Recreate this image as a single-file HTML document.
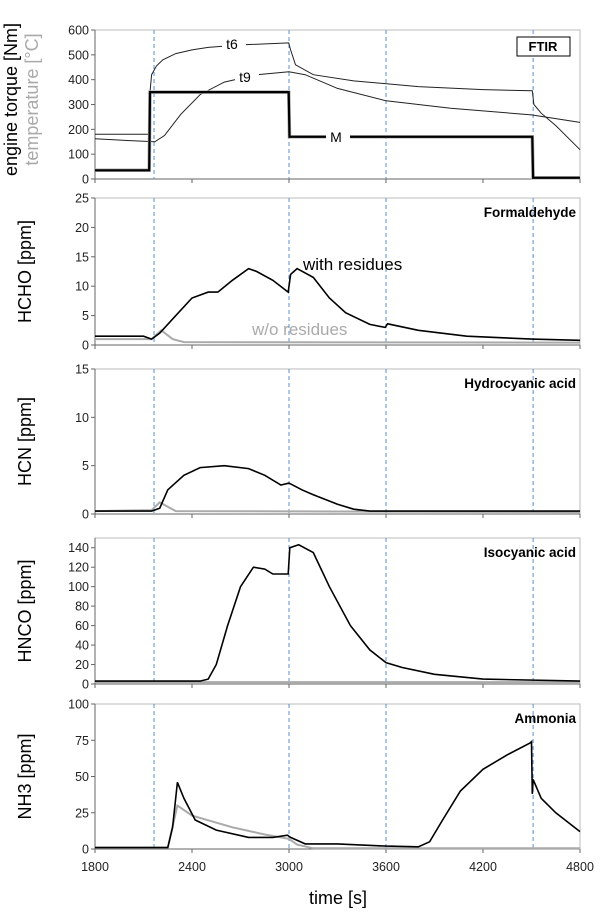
<!DOCTYPE html>
<html><head><meta charset="utf-8"><style>
body{margin:0;background:#fff}
svg text{font-family:"Liberation Sans",sans-serif}
</style></head><body>
<svg id="c" width="614" height="914" xmlns="http://www.w3.org/2000/svg"></svg>
<script>
const xTicks=[1800,2400,3000,3600,4200,4800];
const eventTimes=[2165,3000,3600,4510];
const p1Ticks=[0,100,200,300,400,500,600];
const p2Ticks=[0,5,10,15,20,25];
const p3Ticks=[0,5,10,15];
const p4Ticks=[0,20,40,60,80,100,120,140];
const p5Ticks=[0,25,50,75,100];
const torqueM=[[1800,35],[2135,35],[2140,350],[2998,350],[3003,170],[4505,170],[4510,5],[4800,5]];
const tempT6=[[1800,180],[2132,180],[2140,350],[2150,420],[2180,455],[2220,480],[2300,505],[2400,520],[2500,530],[2700,540],[2998,548],[3010,520],[3040,460],[3150,420],[3400,395],[3800,372],[4200,360],[4505,355],[4515,300],[4560,265],[4650,215],[4800,118]];
const tempT9=[[1800,162],[2000,155],[2170,150],[2230,175],[2330,260],[2450,340],[2600,390],[2800,420],[3000,432],[3100,420],[3300,365],[3600,315],[4000,285],[4500,258],[4800,228]];
const hchoWith=[[1800,1.5],[2100,1.5],[2150,1],[2200,2],[2300,5],[2400,8],[2500,9],[2560,9],[2650,11],[2750,13],[2800,12.5],[2900,11],[2995,9],[3010,12],[3050,13],[3150,11.5],[3250,8],[3350,5.5],[3500,3.5],[3595,3],[3610,3.6],[3800,2.5],[4100,1.5],[4500,1],[4800,0.8]];
const hchoWo=[[1800,1],[2150,1],[2210,2.5],[2280,1],[2350,0.5],[4800,0.4]];
const hcnWith=[[1800,0.3],[2150,0.3],[2200,0.6],[2250,2.5],[2350,4],[2450,4.8],[2600,5],[2750,4.7],[2850,4],[2950,3],[3000,3.2],[3080,2.5],[3150,2],[3300,1],[3400,0.5],[3500,0.3],[4800,0.3]];
const hcnWo=[[1800,0.3],[2150,0.4],[2200,1.2],[2300,0.3],[4800,0.2]];
const hncoWith=[[1800,3],[2450,3],[2500,5],[2550,20],[2620,60],[2700,100],[2780,120],[2850,118],[2900,113],[2995,113],[3005,140],[3060,143],[3150,135],[3250,100],[3380,60],[3500,35],[3600,22],[3700,17],[3900,10],[4200,5],[4800,3]];
const hncoWo=[[1800,2],[4800,2]];
const nh3With=[[1800,1],[2250,1],[2280,15],[2310,46],[2350,35],[2420,20],[2550,13],[2750,8],[2900,8],[2990,9.5],[3010,8],[3100,3.5],[3300,3.5],[3600,2],[3800,1.5],[3870,5],[3950,20],[4060,40],[4200,55],[4350,65],[4490,73],[4500,74],[4505,38],[4510,48],[4560,35],[4650,25],[4800,12]];
const nh3Wo=[[1800,1],[2250,1],[2310,30],[2400,23],[2650,15],[2850,10],[3000,7],[3050,3],[3150,0.5],[4800,0.5]];

const svg=document.getElementById('c');const NS='http://www.w3.org/2000/svg';
function mk(t,a,name,p){const e=document.createElementNS(NS,t);for(const k in a)e.setAttribute(k,a[k]);


(p||svg).appendChild(e);return e;}
const X0=95,X1=580;const sx=t=>X0+(t-1800)/3000*(X1-X0);
const panels=[
{top:30,bot:179,max:600,ticks:p1Ticks,title:['engine torque [Nm]']},
{top:198,bot:345,max:25,ticks:p2Ticks,title:['HCHO [ppm]'],label:'Formaldehyde',w:hchoWith,wo:hchoWo},
{top:369,bot:514,max:15,ticks:p3Ticks,title:['HCN [ppm]'],label:'Hydrocyanic acid',w:hcnWith,wo:hcnWo},
{top:538,bot:684,max:150,ticks:p4Ticks,title:['HNCO [ppm]'],label:'Isocyanic acid',w:hncoWith,wo:hncoWo},
{top:704,bot:849,max:100,ticks:p5Ticks,title:['NH3 [ppm]'],label:'Ammonia',w:nh3With,wo:nh3Wo}];
function path(data,sy){return data.map((d,i)=>(i?'L':'M')+sx(d[0]).toFixed(1)+','+sy(d[1]).toFixed(1)).join('');}
panels.forEach((P,i)=>{
 const g=mk('g',{},'panel-'+(i+1));
 const sy=v=>P.bot-v/P.max*(P.bot-P.top);
 mk('rect',{x:X0,y:P.top,width:X1-X0,height:P.bot-P.top,fill:'none',stroke:'#bbb','stroke-width':1},'plot-frame',g);
 mk('line',{x1:X0,y1:P.top,x2:X0,y2:P.bot,stroke:'#666'},'y-axis',g);
 mk('line',{x1:X0,y1:P.bot,x2:X1,y2:P.bot,stroke:'#666'},'x-axis',g);
 P.ticks.forEach(v=>{const y=sy(v);
  mk('line',{x1:X0-4,y1:y,x2:X0,y2:y,stroke:'#666'},'y-tick',g);
  const t=mk('text',{x:X0-6,y:y+4.5,'font-size':12.5,'text-anchor':'end',fill:'#222'},'y-tick-label',g);t.textContent=v;});
 xTicks.forEach(v=>mk('line',{x1:sx(v),y1:P.bot,x2:sx(v),y2:P.bot+4,stroke:'#666'},'x-tick',g));
 eventTimes.forEach(v=>mk('line',{x1:sx(v),y1:P.top,x2:sx(v),y2:P.bot,stroke:'#5b8fd0','stroke-dasharray':'4,3','stroke-width':1},'event-line',g));
 const cy=(P.top+P.bot)/2;
 if(i===0){
  const t=mk('text',{x:0,y:0,'font-size':18,'text-anchor':'middle',transform:`translate(17,${cy-5}) rotate(-90)`},'y-axis-title',g);t.textContent='engine torque [Nm]';
  const t2=mk('text',{x:0,y:0,'font-size':18,'text-anchor':'middle',fill:'#aaa',transform:`translate(38,${cy-5}) rotate(-90)`},'y-axis-title-temperature',g);t2.textContent='temperature [°C]';
  mk('path',{d:path(tempT9,sy),fill:'none',stroke:'#222','stroke-width':1},'line-t9',g);
  mk('path',{d:path(tempT6,sy),fill:'none',stroke:'#222','stroke-width':1},'line-t6',g);
  mk('path',{d:path(torqueM,sy),fill:'none',stroke:'#aaa','stroke-width':3.5},'line-torque-gray',g);
  mk('path',{d:path(torqueM,sy),fill:'none',stroke:'#000','stroke-width':2.2},'line-torque-m',g);
  [['t6',232,49],['t9',245,82],['M',336,142]].forEach(([s,x,y])=>{
   mk('rect',{x:x-10,y:y-13,width:24,height:16,fill:'#fff'},'label-bg',g);
   const t=mk('text',{x:x,y:y,'font-size':14,'text-anchor':'middle'},'series-label-'+s,g);t.textContent=s;});
  mk('rect',{x:517,y:37,width:53,height:19,fill:'#fff',stroke:'#000'},'ftir-box',g);
  const f=mk('text',{x:543,y:51,'font-size':13,'text-anchor':'middle','font-weight':'bold'},'ftir-label',g);f.textContent='FTIR';
 } else {
  const t=mk('text',{x:0,y:0,'font-size':18,'text-anchor':'middle',transform:`translate(31,${cy}) rotate(-90)`},'y-axis-title',g);t.textContent=P.title[0];
  mk('path',{d:path(P.wo,sy),fill:'none',stroke:'#aaa','stroke-width':2},'line-wo-residues',g);
  mk('path',{d:path(P.w,sy),fill:'none',stroke:'#000','stroke-width':1.6},'line-with-residues',g);
  const l=mk('text',{x:576,y:P.top+19,'font-size':13.5,'text-anchor':'end','font-weight':'bold'},'panel-label',g);l.textContent=P.label;
 }
 if(i===4){xTicks.forEach(v=>{const t=mk('text',{x:sx(v),y:P.bot+22,'font-size':12.5,'text-anchor':'middle',fill:'#222'},'x-tick-label',g);t.textContent=v;});}
});
const a=mk('text',{x:303,y:270,'font-size':17},'annotation-with-residues');a.textContent='with residues';
const b=mk('text',{x:252,y:335,'font-size':17,fill:'#aaa'},'annotation-wo-residues');b.textContent='w/o residues';
const xt=mk('text',{x:338,y:904,'font-size':18,'text-anchor':'middle'},'x-axis-title');xt.textContent='time [s]';
</script>
</body></html>
